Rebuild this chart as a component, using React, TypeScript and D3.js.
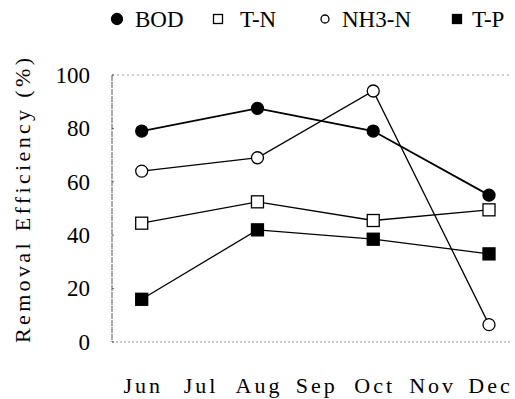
import React from 'react';
import * as d3 from 'd3';

// months on the x axis
const months = ['Jun', 'Jul', 'Aug', 'Sep', 'Oct', 'Nov', 'Dec'];
const sampleMonths = ['Jun', 'Aug', 'Oct', 'Dec'];

// removal efficiency (%) per series
const bod = [79, 87.5, 79, 55];
const tn = [44.5, 52.5, 45.5, 49.5];
const nh3n = [64, 69, 94, 6.5];
const tp = [16, 42, 38.5, 33];

const yTicks = [0, 20, 40, 60, 80, 100];

const series = [
  { name: 'BOD', values: bod, shape: 'circle', filled: true },
  { name: 'T-N', values: tn, shape: 'square', filled: false },
  { name: 'NH3-N', values: nh3n, shape: 'circle', filled: false },
  { name: 'T-P', values: tp, shape: 'square', filled: true },
];

const W = 515;
const H = 399;
const FONT = "'Liberation Serif', 'Times New Roman', 'DejaVu Serif', serif";

function Marker({ shape, filled, x, y, size }: any) {
  const fill = filled ? '#000' : '#fff';
  if (shape === 'circle') {
    return <circle cx={x} cy={y} r={size / 2} fill={fill} stroke="#000" strokeWidth={1.3} />;
  }
  return (
    <rect x={x - size / 2} y={y - size / 2} width={size} height={size}
      fill={fill} stroke="#000" strokeWidth={1.3} />
  );
}

export default function App() {
  const xScale = d3.scalePoint<string>().domain(months).range([141.7, 489]);
  const yScale = d3.scaleLinear().domain([0, 100]).range([342, 75]);

  const line = d3.line<number>()
    .x((d, i) => xScale(sampleMonths[i]) as number)
    .y((d) => yScale(d));

  const left = 112;
  const right = 510;

  const legend = [
    { idx: 0, mx: 117, tx: 135, size: 11 },
    { idx: 1, mx: 218, tx: 240, size: 9 },
    { idx: 2, mx: 325, tx: 342, size: 8 },
    { idx: 3, mx: 457, tx: 472, size: 9 },
  ];

  const txt = { fontFamily: FONT, fontWeight: 'normal' as const };

  return (
    <svg width={W} height={H} style={{ position: 'absolute', left: 0, top: 0, background: '#fff' }}>
      {/* frame */}
      <line x1={left} x2={right} y1={yScale(100)} y2={yScale(100)} stroke="#888"
        strokeWidth={0.8} strokeDasharray="2,3" />
      <line x1={left} x2={right} y1={yScale(0)} y2={yScale(0)} stroke="#777"
        strokeWidth={0.8} strokeDasharray="2,2" />
      <line x1={left} x2={left} y1={yScale(100)} y2={yScale(0)} stroke="#444"
        strokeWidth={0.9} strokeDasharray="6,1" />
      {yTicks.map((t) => (
        <line key={'tk' + t} x1={left} x2={left + 2} y1={yScale(t)} y2={yScale(t)} stroke="#444" strokeWidth={0.8} />
      ))}

      {/* y tick labels */}
      {yTicks.map((t) => (
        <text key={'yl' + t} x={90} y={yScale(t)} dy="0.34em" textAnchor="end"
          fontSize={23} style={txt}>{t}</text>
      ))}

      {/* y title */}
      <text transform={`translate(30,${(58 + 343) / 2}) rotate(-90)`} textAnchor="middle"
        fontSize={22} textLength={285} lengthAdjust="spacing" style={txt}>Removal Efficiency (%)</text>

      {/* x labels */}
      {months.map((m) => (
        <text key={m} x={(xScale(m) as number) + 1.5} y={393} textAnchor="middle" fontSize={22}
          letterSpacing={3} style={txt}>{m}</text>
      ))}

      {/* lines */}
      {series.map((s) => (
        <path key={'l' + s.name} d={line(s.values) as string} fill="none" stroke="#000"
          strokeWidth={s.name === 'BOD' ? 1.8 : 1.3} />
      ))}

      {/* markers */}
      {series.map((s) =>
        s.values.map((v, i) => (
          <Marker key={s.name + i} shape={s.shape} filled={s.filled}
            x={xScale(sampleMonths[i]) as number} y={yScale(v)} size={12} />
        ))
      )}

      {/* legend */}
      {legend.map((l) => {
        const s = series[l.idx];
        return (
          <g key={'lg' + s.name}>
            <Marker shape={s.shape} filled={s.filled} x={l.mx} y={19} size={l.size} />
            <text x={l.tx} y={27} fontSize={23} style={txt}>{s.name}</text>
          </g>
        );
      })}
    </svg>
  );
}
